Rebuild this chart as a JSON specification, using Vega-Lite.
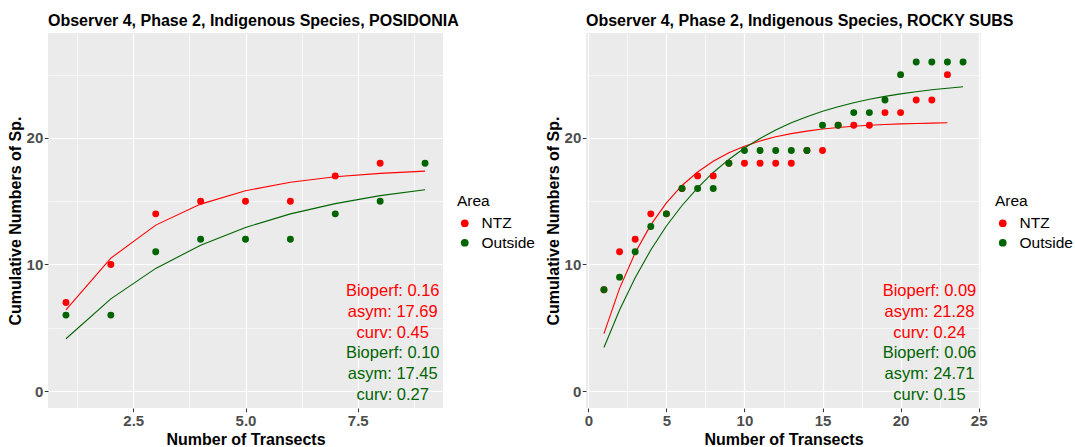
{
  "$schema": "https://vega.github.io/schema/vega-lite/v6.json",
  "background": "white",
  "padding": {"left": 7, "top": 12, "right": 5, "bottom": 2},
  "datasets": {
    "posPts": [
      {"x": 1, "y": 7, "Area": "NTZ"}, {"x": 2, "y": 10, "Area": "NTZ"}, {"x": 3, "y": 14, "Area": "NTZ"},
      {"x": 4, "y": 15, "Area": "NTZ"}, {"x": 5, "y": 15, "Area": "NTZ"}, {"x": 6, "y": 15, "Area": "NTZ"},
      {"x": 7, "y": 17, "Area": "NTZ"}, {"x": 8, "y": 18, "Area": "NTZ"},
      {"x": 1, "y": 6, "Area": "Outside"}, {"x": 2, "y": 6, "Area": "Outside"}, {"x": 3, "y": 11, "Area": "Outside"},
      {"x": 4, "y": 12, "Area": "Outside"}, {"x": 5, "y": 12, "Area": "Outside"}, {"x": 6, "y": 12, "Area": "Outside"},
      {"x": 7, "y": 14, "Area": "Outside"}, {"x": 8, "y": 15, "Area": "Outside"}, {"x": 9, "y": 18, "Area": "Outside"}
    ],
    "posFit": [
      {"x": 1, "fit": 6.41, "Area": "NTZ"}, {"x": 2, "fit": 10.50, "Area": "NTZ"}, {"x": 3, "fit": 13.11, "Area": "NTZ"},
      {"x": 4, "fit": 14.77, "Area": "NTZ"}, {"x": 5, "fit": 15.83, "Area": "NTZ"}, {"x": 6, "fit": 16.50, "Area": "NTZ"},
      {"x": 7, "fit": 16.93, "Area": "NTZ"}, {"x": 8, "fit": 17.20, "Area": "NTZ"}, {"x": 9, "fit": 17.38, "Area": "NTZ"},
      {"x": 1, "fit": 4.13, "Area": "Outside"}, {"x": 2, "fit": 7.28, "Area": "Outside"}, {"x": 3, "fit": 9.69, "Area": "Outside"},
      {"x": 4, "fit": 11.52, "Area": "Outside"}, {"x": 5, "fit": 12.93, "Area": "Outside"}, {"x": 6, "fit": 14.00, "Area": "Outside"},
      {"x": 7, "fit": 14.81, "Area": "Outside"}, {"x": 8, "fit": 15.44, "Area": "Outside"}, {"x": 9, "fit": 15.91, "Area": "Outside"}
    ],
    "posTxt": [
      {"Area": "NTZ", "x": 8.28, "y": 7.9, "label": ["Bioperf: 0.16", "asym: 17.69", "curv: 0.45"]},
      {"Area": "Outside", "x": 8.28, "y": 3.0, "label": ["Bioperf: 0.10", "asym: 17.45", "curv: 0.27"]}
    ],
    "rockPts": [
      {"x": 1, "y": 8, "Area": "NTZ"}, {"x": 2, "y": 11, "Area": "NTZ"}, {"x": 3, "y": 12, "Area": "NTZ"},
      {"x": 4, "y": 14, "Area": "NTZ"}, {"x": 5, "y": 14, "Area": "NTZ"}, {"x": 6, "y": 16, "Area": "NTZ"},
      {"x": 7, "y": 17, "Area": "NTZ"}, {"x": 8, "y": 17, "Area": "NTZ"}, {"x": 9, "y": 18, "Area": "NTZ"},
      {"x": 10, "y": 18, "Area": "NTZ"}, {"x": 11, "y": 18, "Area": "NTZ"}, {"x": 12, "y": 18, "Area": "NTZ"},
      {"x": 13, "y": 18, "Area": "NTZ"}, {"x": 14, "y": 19, "Area": "NTZ"}, {"x": 15, "y": 19, "Area": "NTZ"},
      {"x": 16, "y": 21, "Area": "NTZ"}, {"x": 17, "y": 21, "Area": "NTZ"}, {"x": 18, "y": 21, "Area": "NTZ"},
      {"x": 19, "y": 22, "Area": "NTZ"}, {"x": 20, "y": 22, "Area": "NTZ"}, {"x": 21, "y": 23, "Area": "NTZ"},
      {"x": 22, "y": 23, "Area": "NTZ"}, {"x": 23, "y": 25, "Area": "NTZ"},
      {"x": 1, "y": 8, "Area": "Outside"}, {"x": 2, "y": 9, "Area": "Outside"}, {"x": 3, "y": 11, "Area": "Outside"},
      {"x": 4, "y": 13, "Area": "Outside"}, {"x": 5, "y": 14, "Area": "Outside"}, {"x": 6, "y": 16, "Area": "Outside"},
      {"x": 7, "y": 16, "Area": "Outside"}, {"x": 8, "y": 16, "Area": "Outside"}, {"x": 9, "y": 18, "Area": "Outside"},
      {"x": 10, "y": 19, "Area": "Outside"}, {"x": 11, "y": 19, "Area": "Outside"}, {"x": 12, "y": 19, "Area": "Outside"},
      {"x": 13, "y": 19, "Area": "Outside"}, {"x": 14, "y": 19, "Area": "Outside"}, {"x": 15, "y": 21, "Area": "Outside"},
      {"x": 16, "y": 21, "Area": "Outside"}, {"x": 17, "y": 22, "Area": "Outside"}, {"x": 18, "y": 22, "Area": "Outside"},
      {"x": 19, "y": 23, "Area": "Outside"}, {"x": 20, "y": 25, "Area": "Outside"}, {"x": 21, "y": 26, "Area": "Outside"},
      {"x": 22, "y": 26, "Area": "Outside"}, {"x": 23, "y": 26, "Area": "Outside"}, {"x": 24, "y": 26, "Area": "Outside"}
    ],
    "rockFit": [
      {"x": 1, "fit": 4.54, "Area": "NTZ"}, {"x": 2, "fit": 8.11, "Area": "NTZ"}, {"x": 3, "fit": 10.92, "Area": "NTZ"},
      {"x": 4, "fit": 13.13, "Area": "NTZ"}, {"x": 5, "fit": 14.87, "Area": "NTZ"}, {"x": 6, "fit": 16.24, "Area": "NTZ"},
      {"x": 7, "fit": 17.31, "Area": "NTZ"}, {"x": 8, "fit": 18.16, "Area": "NTZ"}, {"x": 9, "fit": 18.83, "Area": "NTZ"},
      {"x": 10, "fit": 19.35, "Area": "NTZ"}, {"x": 11, "fit": 19.76, "Area": "NTZ"}, {"x": 12, "fit": 20.09, "Area": "NTZ"},
      {"x": 13, "fit": 20.34, "Area": "NTZ"}, {"x": 14, "fit": 20.54, "Area": "NTZ"}, {"x": 15, "fit": 20.70, "Area": "NTZ"},
      {"x": 16, "fit": 20.82, "Area": "NTZ"}, {"x": 17, "fit": 20.92, "Area": "NTZ"}, {"x": 18, "fit": 21.00, "Area": "NTZ"},
      {"x": 19, "fit": 21.06, "Area": "NTZ"}, {"x": 20, "fit": 21.11, "Area": "NTZ"}, {"x": 21, "fit": 21.14, "Area": "NTZ"},
      {"x": 22, "fit": 21.17, "Area": "NTZ"}, {"x": 23, "fit": 21.20, "Area": "NTZ"},
      {"x": 1, "fit": 3.44, "Area": "Outside"}, {"x": 2, "fit": 6.40, "Area": "Outside"}, {"x": 3, "fit": 8.95, "Area": "Outside"},
      {"x": 4, "fit": 11.15, "Area": "Outside"}, {"x": 5, "fit": 13.04, "Area": "Outside"}, {"x": 6, "fit": 14.66, "Area": "Outside"},
      {"x": 7, "fit": 16.06, "Area": "Outside"}, {"x": 8, "fit": 17.27, "Area": "Outside"}, {"x": 9, "fit": 18.30, "Area": "Outside"},
      {"x": 10, "fit": 19.20, "Area": "Outside"}, {"x": 11, "fit": 19.96, "Area": "Outside"}, {"x": 12, "fit": 20.63, "Area": "Outside"},
      {"x": 13, "fit": 21.20, "Area": "Outside"}, {"x": 14, "fit": 21.68, "Area": "Outside"}, {"x": 15, "fit": 22.11, "Area": "Outside"},
      {"x": 16, "fit": 22.47, "Area": "Outside"}, {"x": 17, "fit": 22.78, "Area": "Outside"}, {"x": 18, "fit": 23.05, "Area": "Outside"},
      {"x": 19, "fit": 23.28, "Area": "Outside"}, {"x": 20, "fit": 23.48, "Area": "Outside"}, {"x": 21, "fit": 23.65, "Area": "Outside"},
      {"x": 22, "fit": 23.80, "Area": "Outside"}, {"x": 23, "fit": 23.93, "Area": "Outside"}, {"x": 24, "fit": 24.04, "Area": "Outside"}
    ],
    "rockTxt": [
      {"Area": "NTZ", "x": 21.85, "y": 7.9, "label": ["Bioperf: 0.09", "asym: 21.28", "curv: 0.24"]},
      {"Area": "Outside", "x": 21.85, "y": 3.0, "label": ["Bioperf: 0.06", "asym: 24.71", "curv: 0.15"]}
    ]
  },
  "hconcat": [
    {
      "width": 395,
      "height": 375,
      "title": {"text": "Observer 4, Phase 2, Indigenous Species, POSIDONIA"},
      "encoding": {
        "x": {"field": "x", "type": "quantitative", "scale": {"domain": [0.6, 9.4], "nice": false, "zero": false},
          "title": "Number of Transects",
          "axis": {
            "values": [1.25, 2.5, 3.75, 5, 6.25, 7.5, 8.75],
            "labelExpr": "datum.value % 2.5 === 0 ? format(datum.value, '.1f') : ''",
            "gridWidth": {"condition": {"test": "datum.value % 2.5 === 0", "value": 1.2}, "value": 0.6},
            "tickOpacity": {"condition": {"test": "datum.value % 2.5 === 0", "value": 1}, "value": 0}
          }}
      },
      "layer": [
        {
          "data": {"name": "posFit"},
          "transform": [{"filter": "datum.Area === 'NTZ'"}],
          "mark": {"type": "line", "strokeWidth": 1.1, "color": "#FF0000"},
          "encoding": {
            "y": {"field": "fit", "type": "quantitative", "scale": {"domain": [-1.34, 28.29], "nice": false, "zero": false},
              "title": "Cumulative Numbers of Sp.",
              "axis": {
                "values": [0, 5, 10, 15, 20, 25],
                "labelExpr": "datum.value % 10 === 0 ? format(datum.value, 'd') : ''",
                "gridWidth": {"condition": {"test": "datum.value % 10 === 0", "value": 1.2}, "value": 0.6},
                "tickOpacity": {"condition": {"test": "datum.value % 10 === 0", "value": 1}, "value": 0}
              }}
          }
        },
        {
          "data": {"name": "posFit"},
          "transform": [{"filter": "datum.Area === 'Outside'"}],
          "mark": {"type": "line", "strokeWidth": 1.1, "color": "#006400"},
          "encoding": {
            "y": {"field": "fit", "type": "quantitative"}
          }
        },
        {
          "data": {"name": "posPts"},
          "mark": {"type": "point", "filled": true, "shape": "circle", "size": 48, "opacity": 1, "strokeWidth": 0},
          "encoding": {
            "y": {"field": "y", "type": "quantitative"},
            "color": {"field": "Area", "type": "nominal", "scale": {"domain": ["NTZ", "Outside"], "range": ["#FF0000", "#006400"]},
              "legend": {"title": "Area", "orient": "none", "legendX": 409, "legendY": 161}}
          }
        },
        {
          "data": {"name": "posTxt"},
          "transform": [{"filter": "datum.Area === 'NTZ'"}],
          "mark": {"type": "text", "font": "Liberation Sans", "fontSize": 16.5, "align": "center", "baseline": "middle", "lineHeight": 20.9, "color": "#FF0000"},
          "encoding": {
            "y": {"field": "y", "type": "quantitative"},
            "text": {"field": "label"}
          }
        },
        {
          "data": {"name": "posTxt"},
          "transform": [{"filter": "datum.Area === 'Outside'"}],
          "mark": {"type": "text", "font": "Liberation Sans", "fontSize": 16.5, "align": "center", "baseline": "middle", "lineHeight": 20.9, "color": "#006400"},
          "encoding": {
            "y": {"field": "y", "type": "quantitative"},
            "text": {"field": "label"}
          }
        }
      ]
    },
    {
      "width": 395,
      "height": 375,
      "title": {"text": "Observer 4, Phase 2, Indigenous Species, ROCKY SUBS"},
      "encoding": {
        "x": {"field": "x", "type": "quantitative", "scale": {"domain": [-0.15, 25.15], "nice": false, "zero": false},
          "title": "Number of Transects",
          "axis": {
            "values": [0, 2.5, 5, 7.5, 10, 12.5, 15, 17.5, 20, 22.5, 25],
            "labelExpr": "datum.value % 5 === 0 ? format(datum.value, 'd') : ''",
            "gridWidth": {"condition": {"test": "datum.value % 5 === 0", "value": 1.2}, "value": 0.6},
            "tickOpacity": {"condition": {"test": "datum.value % 5 === 0", "value": 1}, "value": 0}
          }}
      },
      "layer": [
        {
          "data": {"name": "rockFit"},
          "transform": [{"filter": "datum.Area === 'NTZ'"}],
          "mark": {"type": "line", "strokeWidth": 1.1, "color": "#FF0000"},
          "encoding": {
            "y": {"field": "fit", "type": "quantitative", "scale": {"domain": [-1.34, 28.29], "nice": false, "zero": false},
              "title": "Cumulative Numbers of Sp.",
              "axis": {
                "values": [0, 5, 10, 15, 20, 25],
                "labelExpr": "datum.value % 10 === 0 ? format(datum.value, 'd') : ''",
                "gridWidth": {"condition": {"test": "datum.value % 10 === 0", "value": 1.2}, "value": 0.6},
                "tickOpacity": {"condition": {"test": "datum.value % 10 === 0", "value": 1}, "value": 0}
              }}
          }
        },
        {
          "data": {"name": "rockFit"},
          "transform": [{"filter": "datum.Area === 'Outside'"}],
          "mark": {"type": "line", "strokeWidth": 1.1, "color": "#006400"},
          "encoding": {
            "y": {"field": "fit", "type": "quantitative"}
          }
        },
        {
          "data": {"name": "rockPts"},
          "mark": {"type": "point", "filled": true, "shape": "circle", "size": 48, "opacity": 1, "strokeWidth": 0},
          "encoding": {
            "y": {"field": "y", "type": "quantitative"},
            "color": {"field": "Area", "type": "nominal", "scale": {"domain": ["NTZ", "Outside"], "range": ["#FF0000", "#006400"]},
              "legend": {"title": "Area", "orient": "none", "legendX": 409, "legendY": 161}}
          }
        },
        {
          "data": {"name": "rockTxt"},
          "transform": [{"filter": "datum.Area === 'NTZ'"}],
          "mark": {"type": "text", "font": "Liberation Sans", "fontSize": 16.5, "align": "center", "baseline": "middle", "lineHeight": 20.9, "color": "#FF0000"},
          "encoding": {
            "y": {"field": "y", "type": "quantitative"},
            "text": {"field": "label"}
          }
        },
        {
          "data": {"name": "rockTxt"},
          "transform": [{"filter": "datum.Area === 'Outside'"}],
          "mark": {"type": "text", "font": "Liberation Sans", "fontSize": 16.5, "align": "center", "baseline": "middle", "lineHeight": 20.9, "color": "#006400"},
          "encoding": {
            "y": {"field": "y", "type": "quantitative"},
            "text": {"field": "label"}
          }
        }
      ]
    }
  ],
  "spacing": 10,
  "resolve": {"scale": {"color": "independent", "x": "independent", "y": "independent"}, "legend": {"color": "independent"}},
  "config": {
    "font": "Liberation Sans",
    "view": {"fill": "#EBEBEB", "stroke": null},
    "title": {"anchor": "start", "frame": "group", "font": "Liberation Sans", "fontSize": 16, "fontWeight": "bold", "color": "#000000", "offset": 4.5},
    "axis": {
      "domain": false,
      "tickColor": "#333333",
      "tickSize": 3.7,
      "tickWidth": 1,
      "labelColor": "#4D4D4D",
      "labelFont": "Liberation Sans",
      "labelFontWeight": "bold",
      "labelFontSize": 15,
      "labelPadding": 1.5,
      "titleFont": "Liberation Sans",
      "titleFontWeight": "bold",
      "titleFontSize": 16,
      "titleColor": "#000000",
      "titlePadding": 3,
      "gridColor": "#FFFFFF",
      "gridOpacity": 1
    },
    "legend": {
      "titleFont": "Liberation Sans",
      "titleFontSize": 15.5,
      "titleFontWeight": "normal",
      "titleColor": "#000000",
      "labelFont": "Liberation Sans",
      "labelFontSize": 15.5,
      "labelColor": "#000000",
      "symbolType": "circle",
      "symbolSize": 60,
      "symbolStrokeWidth": 0,
      "rowPadding": 2.5,
      "titlePadding": 6,
      "labelOffset": 9,
      "padding": 0
    }
  }
}
